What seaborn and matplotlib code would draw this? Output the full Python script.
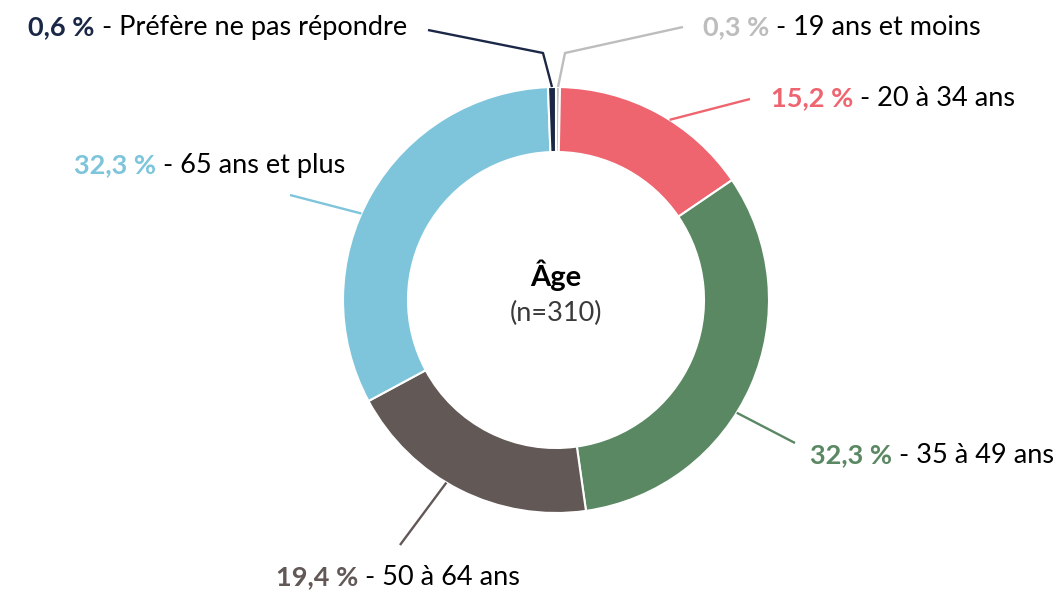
import matplotlib
matplotlib.use("Agg")
import matplotlib.pyplot as plt
import seaborn as sns
import numpy as np

# ---- data ----
categories = ["19 ans et moins", "20 à 34 ans", "35 à 49 ans", "50 à 64 ans",
              "65 ans et plus", "Préfère ne pas répondre"]
values = [0.3, 15.2, 32.3, 19.4, 32.3, 0.6]
pct_labels = ["0,3 %", "15,2 %", "32,3 %", "19,4 %", "32,3 %", "0,6 %"]
colors = ["#BDBDBD", "#EE6570", "#5A8862", "#625856", "#7EC5DC", "#1B2746"]
center_title = "Âge"
center_sub = "(n=310)"

sns.set_theme(style="white")
plt.rcParams['font.family'] = ['Lato', 'DejaVu Sans']

W, H = 1058, 592
fig = plt.figure(figsize=(W / 100, H / 100), dpi=100)
ax = fig.add_axes([0, 0, 1, 1])

def Y(ypx):
    return H - ypx

cx, cy, R = 556, Y(300), 213
ring = 65 / 213

pal = sns.color_palette(colors)
wedges, _ = ax.pie(values, colors=pal, startangle=90, counterclock=False,
                   radius=R, center=(cx, cy),
                   wedgeprops=dict(width=R * ring, edgecolor="white", linewidth=1.5))
ax.set_xlim(0, W)
ax.set_ylim(0, H)
ax.set_aspect("equal")
ax.axis("off")

# leader layout: (fraction along wedge in clockwise sense, elbow or None, end point, text anchor, ha)
layout = [
    (0.5, (565, 53), (683, 27), (703, 35), "left"),
    (0.57, None, (750, 99), (771, 106), "left"),
    (0.57, None, (795, 443), (810, 463), "left"),
    (0.56, None, (400, 545), (398, 585), "center"),
    (0.45, None, (290, 195), (345, 173), "right"),
    (0.5, (543, 53), (428, 30), (407, 35), "right"),
]

fs = 19.5
fig.canvas.draw()
renderer = fig.canvas.get_renderer()

def text_width(s, weight):
    t = ax.text(0, 0, s, fontsize=fs, fontweight=weight)
    w = t.get_window_extent(renderer=renderer).width
    t.remove()
    return w

for w, (frac, elbow, end, anchor, ha), pct, cat, col in zip(
        wedges, layout, pct_labels, categories, colors):
    th = np.deg2rad(w.theta2 - frac * (w.theta2 - w.theta1))
    sx, sy = cx + R * np.cos(th), cy + R * np.sin(th)
    xs = [sx]
    ys = [sy]
    if elbow is not None:
        xs.append(elbow[0]); ys.append(Y(elbow[1]))
    xs.append(end[0]); ys.append(Y(end[1]))
    ax.plot(xs, ys, color=col, lw=1.7, solid_capstyle="butt")

    part1 = pct
    part2 = " - " + cat
    w1 = text_width(part1, "bold")
    w2 = text_width(part2, "normal")
    total = w1 + w2
    if ha == "left":
        x0 = anchor[0]
    elif ha == "right":
        x0 = anchor[0] - total
    else:
        x0 = anchor[0] - total / 2
    by = Y(anchor[1])
    ax.text(x0, by, part1, fontsize=fs, fontweight="bold", color=col,
            ha="left", va="baseline")
    ax.text(x0 + w1, by, part2, fontsize=fs, color="black",
            ha="left", va="baseline")

ax.text(cx, Y(286), center_title, fontsize=21, fontweight="bold", color="black",
        ha="center", va="baseline")
ax.text(cx, Y(321), center_sub, fontsize=19.5, fontweight="normal", color="#3a3a3a",
        ha="center", va="baseline")

fig.savefig("out.png", dpi=100, facecolor="white")
